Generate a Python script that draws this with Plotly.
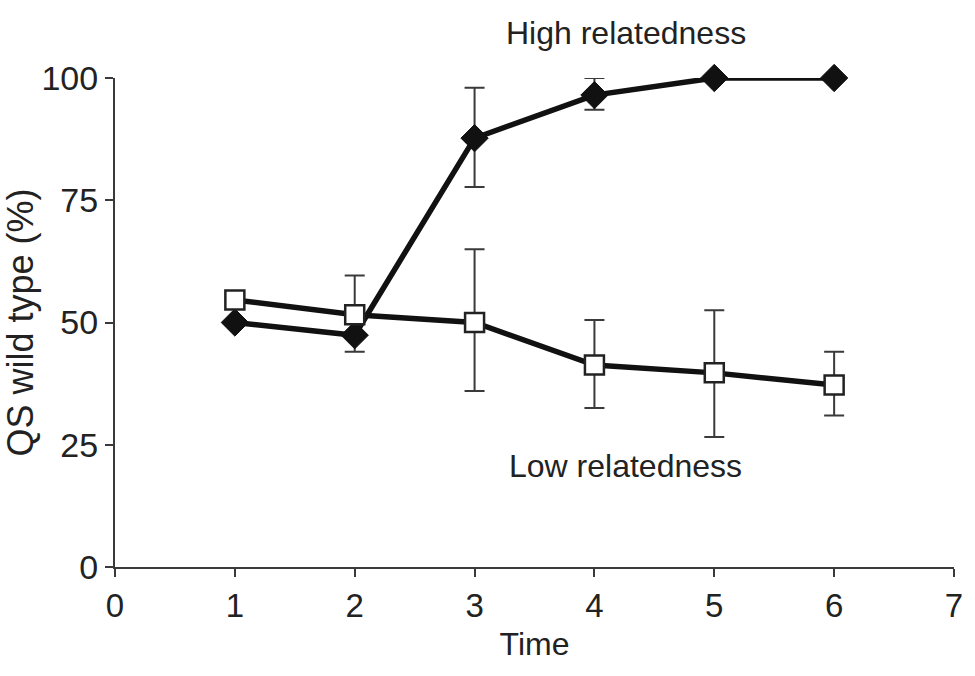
import plotly.graph_objects as go

# Time points and QS wild-type percentages
time = [1, 2, 3, 4, 5, 6]

high_mean = [50.0, 47.4, 87.7, 96.5, 100.0, 100.0]
high_err_up = [0, 0, 10.3, 3.5, 0, 0]
high_err_down = [0, 3.4, 10.0, 3.0, 0, 0]

low_mean = [54.6, 51.6, 50.0, 41.3, 39.7, 37.2]
low_err_up = [0, 8.0, 15.0, 9.2, 12.8, 6.8]
low_err_down = [0, 0, 14.0, 8.8, 13.1, 6.2]

x_ticks = [0, 1, 2, 3, 4, 5, 6, 7]
y_ticks = [0, 25, 50, 75, 100]

FONT = "Liberation Sans, Arial"
TEXT_COLOR = "#222222"
AXIS_COLOR = "#3a3a3a"

fig = go.Figure()

fig.add_trace(go.Scatter(
    x=time, y=high_mean, mode="lines+markers",
    line=dict(color="#111111", width=5.5),
    marker=dict(symbol="diamond", size=21, color="#111111",
                line=dict(color="#111111", width=1)),
    error_y=dict(type="data", symmetric=False, array=high_err_up,
                 arrayminus=high_err_down, color=AXIS_COLOR,
                 thickness=2, width=10),
    cliponaxis=False, showlegend=False,
))

fig.add_trace(go.Scatter(
    x=time, y=low_mean, mode="lines+markers",
    line=dict(color="#111111", width=5.5),
    marker=dict(symbol="square", size=19, color="white",
                line=dict(color="#222222", width=2.5)),
    error_y=dict(type="data", symmetric=False, array=low_err_up,
                 arrayminus=low_err_down, color=AXIS_COLOR,
                 thickness=2, width=10),
    cliponaxis=False, showlegend=False,
))

fig.add_annotation(x=4.26, y=1.092, text="High relatedness", showarrow=False,
                   font=dict(family=FONT, size=32, color=TEXT_COLOR),
                   xref="x", yref="paper", yanchor="middle")
fig.add_annotation(x=4.26, y=20.6, text="Low relatedness", showarrow=False,
                   font=dict(family=FONT, size=32, color=TEXT_COLOR),
                   xref="x", yref="y", yanchor="middle")

fig.update_xaxes(
    range=[0, 7], tickvals=x_ticks, ticktext=[str(v) for v in x_ticks],
    showline=True, linecolor=AXIS_COLOR, linewidth=2,
    ticks="outside", ticklen=8, tickwidth=2, tickcolor=AXIS_COLOR,
    showgrid=False, zeroline=False,
    tickfont=dict(family=FONT, size=33, color=TEXT_COLOR),
    title=dict(text="Time", font=dict(family=FONT, size=32, color=TEXT_COLOR),
               standoff=10),
)
fig.update_yaxes(
    range=[0, 100], tickvals=y_ticks, ticktext=[str(v) for v in y_ticks],
    showline=True, linecolor=AXIS_COLOR, linewidth=2,
    ticks="outside", ticklen=8, tickwidth=2, tickcolor=AXIS_COLOR,
    showgrid=False, zeroline=False,
    tickfont=dict(family=FONT, size=34, color=TEXT_COLOR),
    title=dict(text="QS wild type (%)",
               font=dict(family=FONT, size=36, color=TEXT_COLOR),
               standoff=4),
)

fig.update_layout(
    width=975, height=676,
    margin=dict(l=114, r=18, t=78, b=109),
    paper_bgcolor="white", plot_bgcolor="white",
)

fig.write_html("out.html")
